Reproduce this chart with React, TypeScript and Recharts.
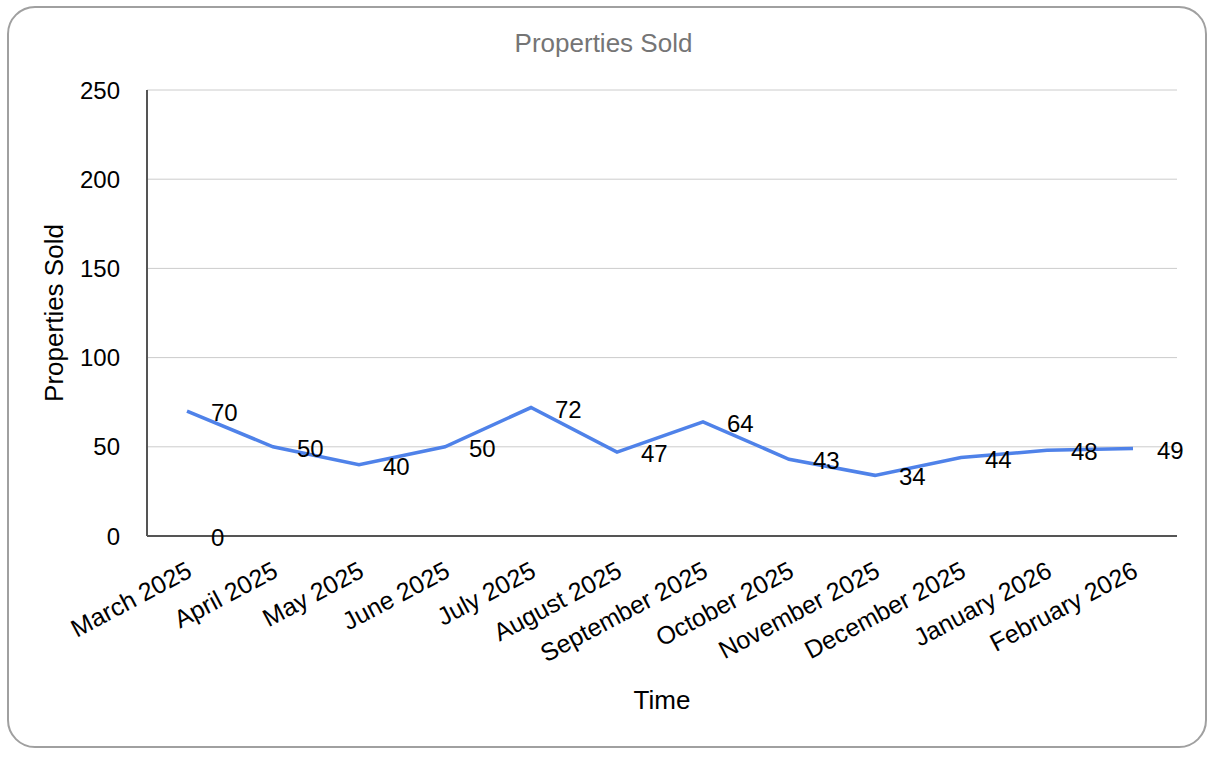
import React from "react";
import {
  LineChart,
  Line,
  XAxis,
  YAxis,
  CartesianGrid,
} from "recharts";

const months = [
  "March 2025",
  "April 2025",
  "May 2025",
  "June 2025",
  "July 2025",
  "August 2025",
  "September 2025",
  "October 2025",
  "November 2025",
  "December 2025",
  "January 2026",
  "February 2026",
];

const sold = [70, 50, 40, 50, 72, 47, 64, 43, 34, 44, 48, 49];

// a second series that only has a 0 in March
const baseline = [0, null, null, null, null, null, null, null, null, null, null, null];

const yTicks = [0, 50, 100, 150, 200, 250];

const data = months.map((month, i) => ({
  month,
  sold: sold[i],
  base: baseline[i],
}));

const font = "'Liberation Sans', Arial, sans-serif";

function renderLabel(props: any) {
  const { x, y, value } = props;
  if (value === null || value === undefined || x == null || y == null) return null;
  return (
    <text
      x={x + 24}
      y={y + 10}
      textAnchor="start"
      fontSize={24}
      fontFamily={font}
      fill="#000"
    >
      {value}
    </text>
  );
}

function MonthTick(props: any) {
  const { x, y, payload } = props;
  const ax = x - 2;
  const ay = y + 24;
  return (
    <text
      x={ax}
      y={ay}
      dy={18}
      textAnchor="end"
      transform={`rotate(-28, ${ax}, ${ay})`}
      fontSize={25}
      fontFamily={font}
      fill="#000"
    >
      {payload.value}
    </text>
  );
}

export default function App() {
  return (
    <div
      style={{
        position: "absolute",
        left: 0,
        top: 0,
        width: 1218,
        height: 758,
        background: "#fff",
        overflow: "hidden",
        fontFamily: font,
      }}
    >
      <div
        style={{
          position: "absolute",
          left: 7,
          top: 6,
          width: 1200,
          height: 742,
          boxSizing: "border-box",
          border: "2px solid #a0a0a0",
          borderRadius: 28,
          background: "#fff",
        }}
      />
      <div
        style={{
          position: "absolute",
          left: 0,
          top: 30,
          width: 1207,
          textAlign: "center",
          fontSize: 26,
          lineHeight: "26px",
          color: "#757575",
        }}
      >
        Properties Sold
      </div>
      <div style={{ position: "absolute", left: 0, top: 0 }}>
        <LineChart
          width={1218}
          height={758}
          data={data}
          margin={{ top: 90, right: 41, bottom: 0, left: 0 }}
          style={{ fontFamily: font }}
        >
          <CartesianGrid vertical={false} stroke="#cccccc" />
          <XAxis
            dataKey="month"
            interval={0}
            height={222}
            padding={{ left: 40, right: 44 }}
            tickLine={false}
            tickSize={0}
            tickMargin={0}
            axisLine={{ stroke: "#555", strokeWidth: 2 }}
            tick={<MonthTick />}
            label={{
              value: "Time",
              position: "insideBottom",
              offset: 49,
              fontSize: 26,
              fill: "#000",
              fontFamily: font,
            }}
          />
          <YAxis
            width={147}
            domain={[0, 250]}
            ticks={yTicks}
            tickLine={false}
            tickSize={0}
            tickMargin={27}
            axisLine={{ stroke: "#555", strokeWidth: 2 }}
            tick={{ fontSize: 24, fill: "#000", fontFamily: font }}
            label={{
              value: "Properties Sold",
              angle: -90,
              position: "insideLeft",
              offset: 54,
              fontSize: 26,
              fill: "#000",
              fontFamily: font,
              style: { textAnchor: "middle" },
            }}
          />
          <Line
            type="linear"
            dataKey="sold"
            stroke="#4f82e9"
            strokeWidth={3.5}
            dot={false}
            activeDot={false}
            label={renderLabel}
            isAnimationActive={false}
          />
          <Line
            type="linear"
            dataKey="base"
            stroke="none"
            dot={false}
            activeDot={false}
            label={renderLabel}
            isAnimationActive={false}
          />
        </LineChart>
      </div>
    </div>
  );
}
